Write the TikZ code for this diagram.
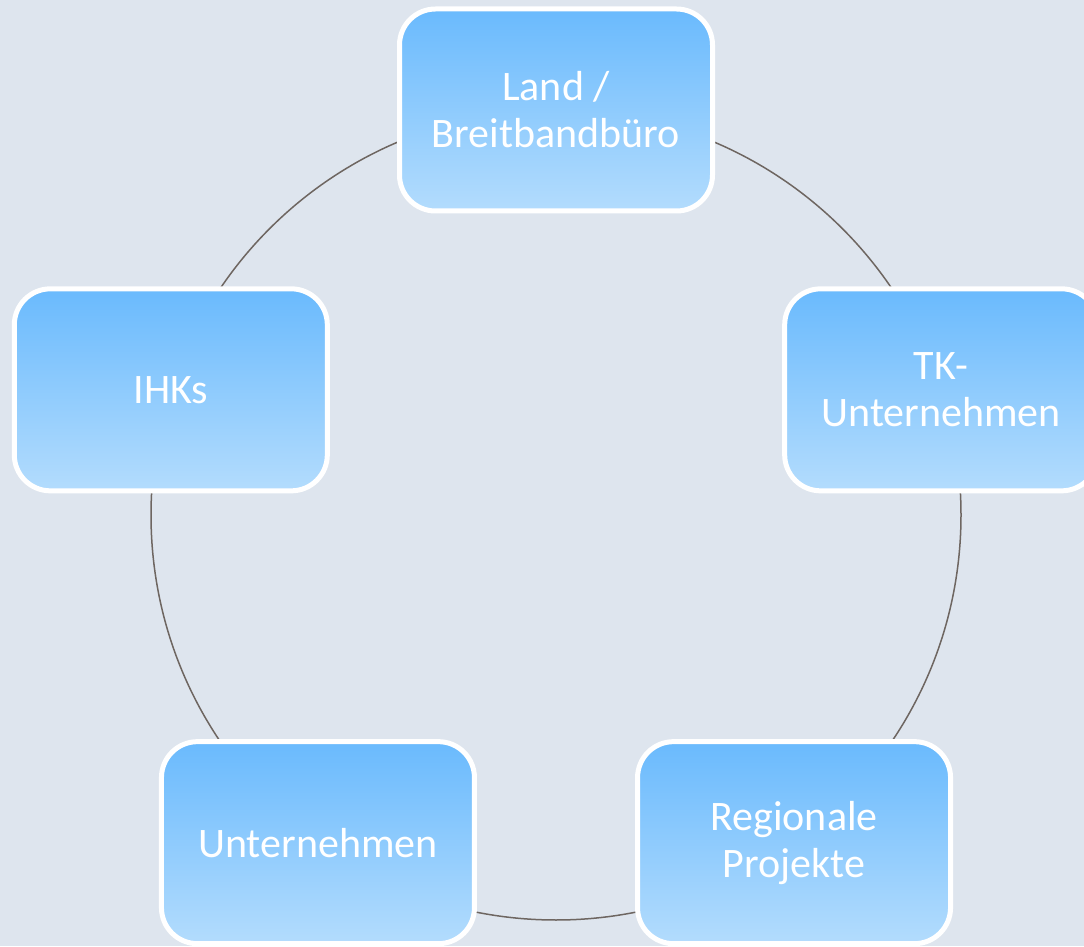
\documentclass[tikz,border=0pt]{standalone}
\usepackage{fontspec}
\setmainfont{Carlito}
\usetikzlibrary{calc}
\definecolor{bgblue}{HTML}{DEE5EE}
\definecolor{boxtop}{HTML}{6ABAFD}
\definecolor{boxbot}{HTML}{B3DCFD}
\definecolor{ringgray}{HTML}{6E6661}
\tikzset{partner/.style={draw=white,line width=5pt,rounded corners=36pt,
    top color=boxtop,bottom color=boxbot,minimum width=313pt,minimum height=202pt,
    align=center,text=white,font=\fontsize{42}{47}\selectfont}}

\begin{document}
\begin{tikzpicture}[x=1pt,y=1pt]
  \useasboundingbox (0,0) rectangle (1084,946);
  \clip (0,0) rectangle (1084,946);
  \fill [bgblue] (0,0) rectangle (1084,946);% background
  \coordinate (c) at (556,431);
  \draw [ringgray,line width=1.5pt] (c) circle (405);% ring behind the boxes
\node[partner] (land) at ($(c)+(90:405)$) {Land /\\Breitbandbüro};
\node[partner] (tk) at ($(c)+(18:405)$) {TK-\\Unternehmen};
\node[partner] (projekte) at ($(c)+(-54:405)$) {Regionale\\Projekte};
\node[partner] (unternehmen) at ($(c)+(234:405)$) {Unternehmen};
\node[partner] (ihks) at ($(c)+(162:405)$) {IHKs};
\end{tikzpicture}
\end{document}
